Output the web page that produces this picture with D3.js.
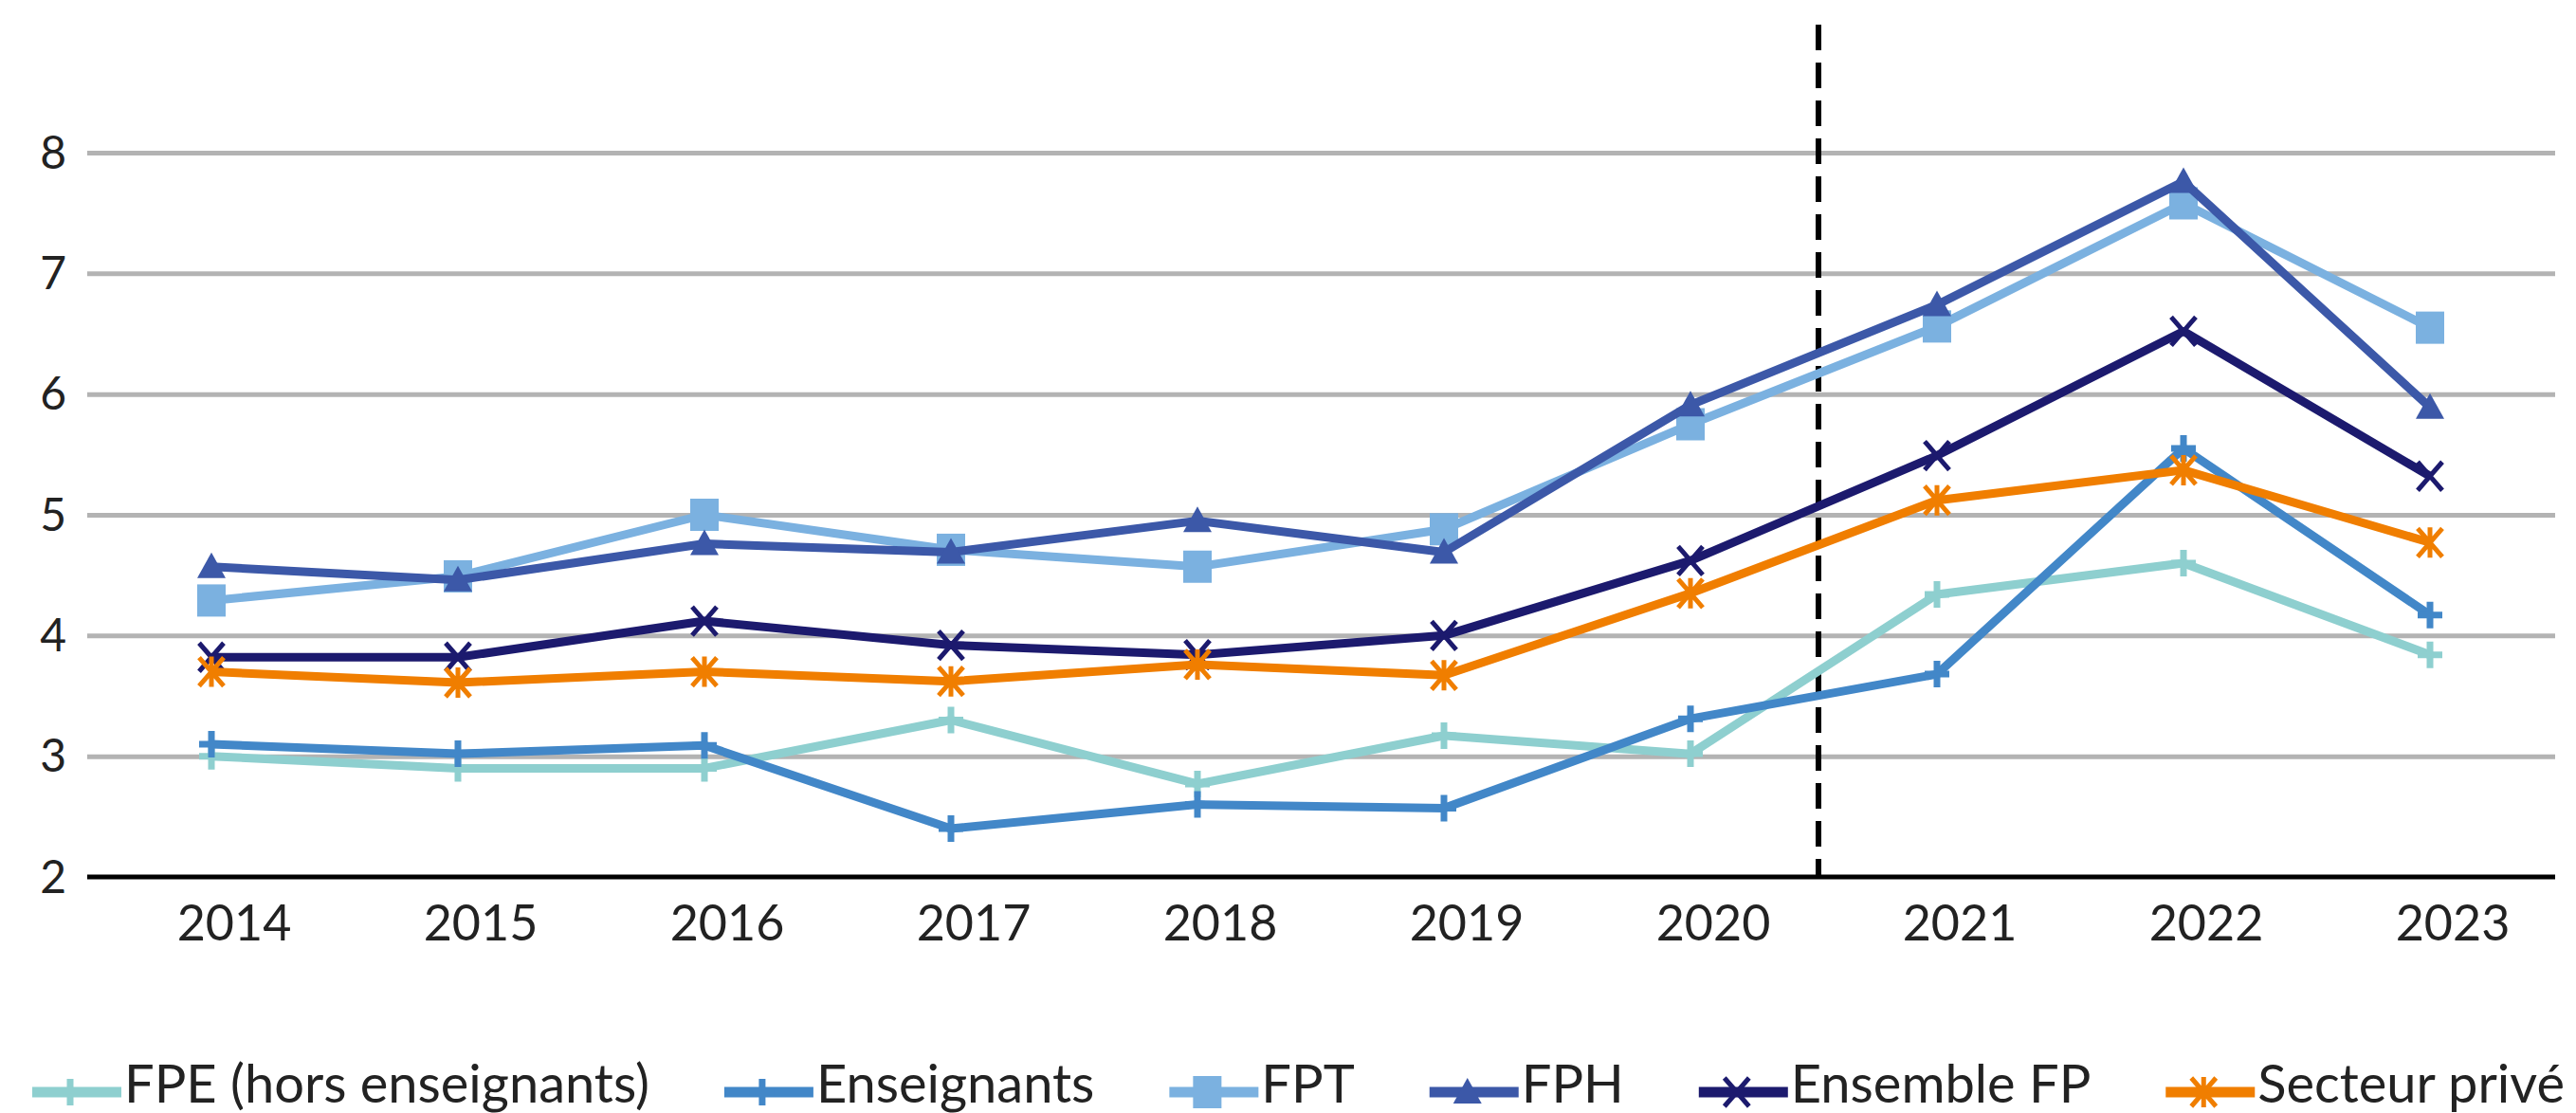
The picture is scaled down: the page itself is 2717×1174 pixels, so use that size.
<!DOCTYPE html>
<html>
<head>
<meta charset="utf-8">
<script src="https://cdnjs.cloudflare.com/ajax/libs/d3/7.8.5/d3.min.js"></script>
<style>
  body { margin: 0; background: #fff; }
  text { font-family: Lato, 'Open Sans', sans-serif; fill: #222; }
</style>
</head>
<body>
<div id="chart"></div>
<script>

// years on the x axis
var years = ['2014', '2015', '2016', '2017', '2018', '2019', '2020', '2021', '2022', '2023']

// series values
var fpe = [3.0, 2.9, 2.9, 3.3, 2.77, 3.17, 3.02, 4.34, 4.6, 3.84]
var enseignants = [3.1, 3.02, 3.09, 2.4, 2.6, 2.57, 3.31, 3.68, 5.55, 4.17]
var fpt = [4.29, 4.49, 5.0, 4.71, 4.57, 4.88, 5.75, 6.56, 7.58, 6.55]
var fph = [4.57, 4.46, 4.76, 4.69, 4.95, 4.69, 5.91, 6.74, 7.76, 5.89]
var ensembleFP = [3.82, 3.82, 4.12, 3.92, 3.84, 4.0, 4.62, 5.49, 6.52, 5.32]
var secteurPrive = [3.7, 3.61, 3.7, 3.62, 3.76, 3.67, 4.35, 5.12, 5.37, 4.77]

// y tick labels
var yTicks = [2, 3, 4, 5, 6, 7, 8]

// series table: name, values, color, marker
var series = [
  { name: 'FPE (hors enseignants)', values: fpe, color: '#8ECFCF', marker: 'plus' },
  { name: 'Enseignants', values: enseignants, color: '#4287C8', marker: 'plus' },
  { name: 'FPT', values: fpt, color: '#7BB1E0', marker: 'square' },
  { name: 'FPH', values: fph, color: '#3C58A8', marker: 'triangle' },
  { name: 'Ensemble FP', values: ensembleFP, color: '#1C1A6E', marker: 'cross' },
  { name: 'Secteur privé', values: secteurPrive, color: '#F07E00', marker: 'star' }
]

var w = 2717
var h = 1174
var left = 92, right = 2695
var bottom = 925

var svg = d3.select('#chart').append('svg')
  .attr('width', w)
  .attr('height', h)

// scales
var x = d3.scaleBand()
  .domain(years)
  .range([93, 2693])

var y = d3.scaleLinear()
  .domain([2, 8])
  .range([bottom, 161])

function xc(d) { return x(d) + x.bandwidth() / 2 }

// grid lines
svg.append('g')
  .attr('class', 'grid')
  .attr('transform', 'translate(' + left + ',0)')
  .call(d3.axisLeft(y)
    .tickValues(yTicks.filter(function(t) { return t > 2 }))
    .tickSize(-(right - left))
    .tickFormat(''))
  .call(function(g) { g.select('.domain').remove() })
  .selectAll('line')
  .attr('stroke', '#B3B3B3')
  .attr('stroke-width', 5)

// y labels
svg.selectAll('.ylabel')
  .data(yTicks)
  .enter().append('text')
  .attr('class', 'ylabel')
  .attr('x', 70)
  .attr('y', function(d) { return y(d) })
  .attr('dy', '0.35em')
  .attr('text-anchor', 'end')
  .style('font-size', '48px')
  .text(function(d) { return d })

// x axis line
svg.append('line')
  .attr('x1', left)
  .attr('x2', right)
  .attr('y1', bottom)
  .attr('y2', bottom)
  .attr('stroke', '#000')
  .attr('stroke-width', 5)

// x labels
svg.selectAll('.xlabel')
  .data(years)
  .enter().append('text')
  .attr('class', 'xlabel')
  .attr('x', function(d) { return xc(d) + 24 })
  .attr('y', 992)
  .attr('text-anchor', 'middle')
  .style('font-size', '52px')
  .text(function(d) { return d })

// dashed separator between 2020 and 2021
svg.append('line')
  .attr('x1', x('2021') + 5)
  .attr('x2', x('2021') + 5)
  .attr('y1', 26)
  .attr('y2', bottom)
  .attr('stroke', '#000')
  .attr('stroke-width', 6)
  .attr('stroke-dasharray', '27,13')

// marker drawing
function drawMarker(g, type, color, cx, cy) {
  if (type === 'plus') {
    g.append('path')
      .attr('d', 'M' + (cx - 13) + ',' + cy + 'H' + (cx + 13) + 'M' + cx + ',' + (cy - 14) + 'V' + (cy + 14))
      .attr('stroke', color).attr('stroke-width', 7).attr('fill', 'none')
  } else if (type === 'square') {
    g.append('rect')
      .attr('x', cx - 15).attr('y', cy - 17)
      .attr('width', 30).attr('height', 34)
      .attr('fill', color)
  } else if (type === 'triangle') {
    g.append('path')
      .attr('d', 'M' + cx + ',' + (cy - 15) + 'L' + (cx + 15) + ',' + (cy + 12) + 'L' + (cx - 15) + ',' + (cy + 12) + 'Z')
      .attr('fill', color)
  } else {
    var p = 'M' + (cx - 13) + ',' + (cy - 15) + 'L' + (cx + 13) + ',' + (cy + 15) +
            'M' + (cx + 13) + ',' + (cy - 15) + 'L' + (cx - 13) + ',' + (cy + 15)
    if (type === 'star') p += 'M' + cx + ',' + (cy - 16) + 'V' + (cy + 16)
    g.append('path')
      .attr('d', p)
      .attr('stroke', color).attr('stroke-width', 5).attr('fill', 'none')
  }
}

// lines and markers
var line = d3.line()
  .x(function(d, i) { return xc(years[i]) })
  .y(function(d) { return y(d) })

series.forEach(function(s) {
  var g = svg.append('g').attr('class', 'series')
  g.append('path')
    .datum(s.values)
    .attr('d', line)
    .attr('fill', 'none')
    .attr('stroke', s.color)
    .attr('stroke-width', 9)
    .attr('stroke-linejoin', 'round')
  s.values.forEach(function(v, i) {
    drawMarker(g, s.marker, s.color, xc(years[i]), y(v))
  })
})

// legend, laid out left to right
var legend = svg.append('g').attr('class', 'legend')
var lx = 34
var ly = 1152
series.forEach(function(s) {
  var item = legend.append('g')
  item.append('line')
    .attr('x1', lx).attr('x2', lx + 94)
    .attr('y1', ly).attr('y2', ly)
    .attr('stroke', s.color)
    .attr('stroke-width', 11)
  drawMarker(item, s.marker, s.color, lx + 40, ly)
  var t = item.append('text')
    .attr('x', lx + 97)
    .attr('y', 1163)
    .style('font-size', '56px')
    .text(s.name)
  lx = lx + 97 + t.node().getComputedTextLength() + 79
})

</script>
</body>
</html>
